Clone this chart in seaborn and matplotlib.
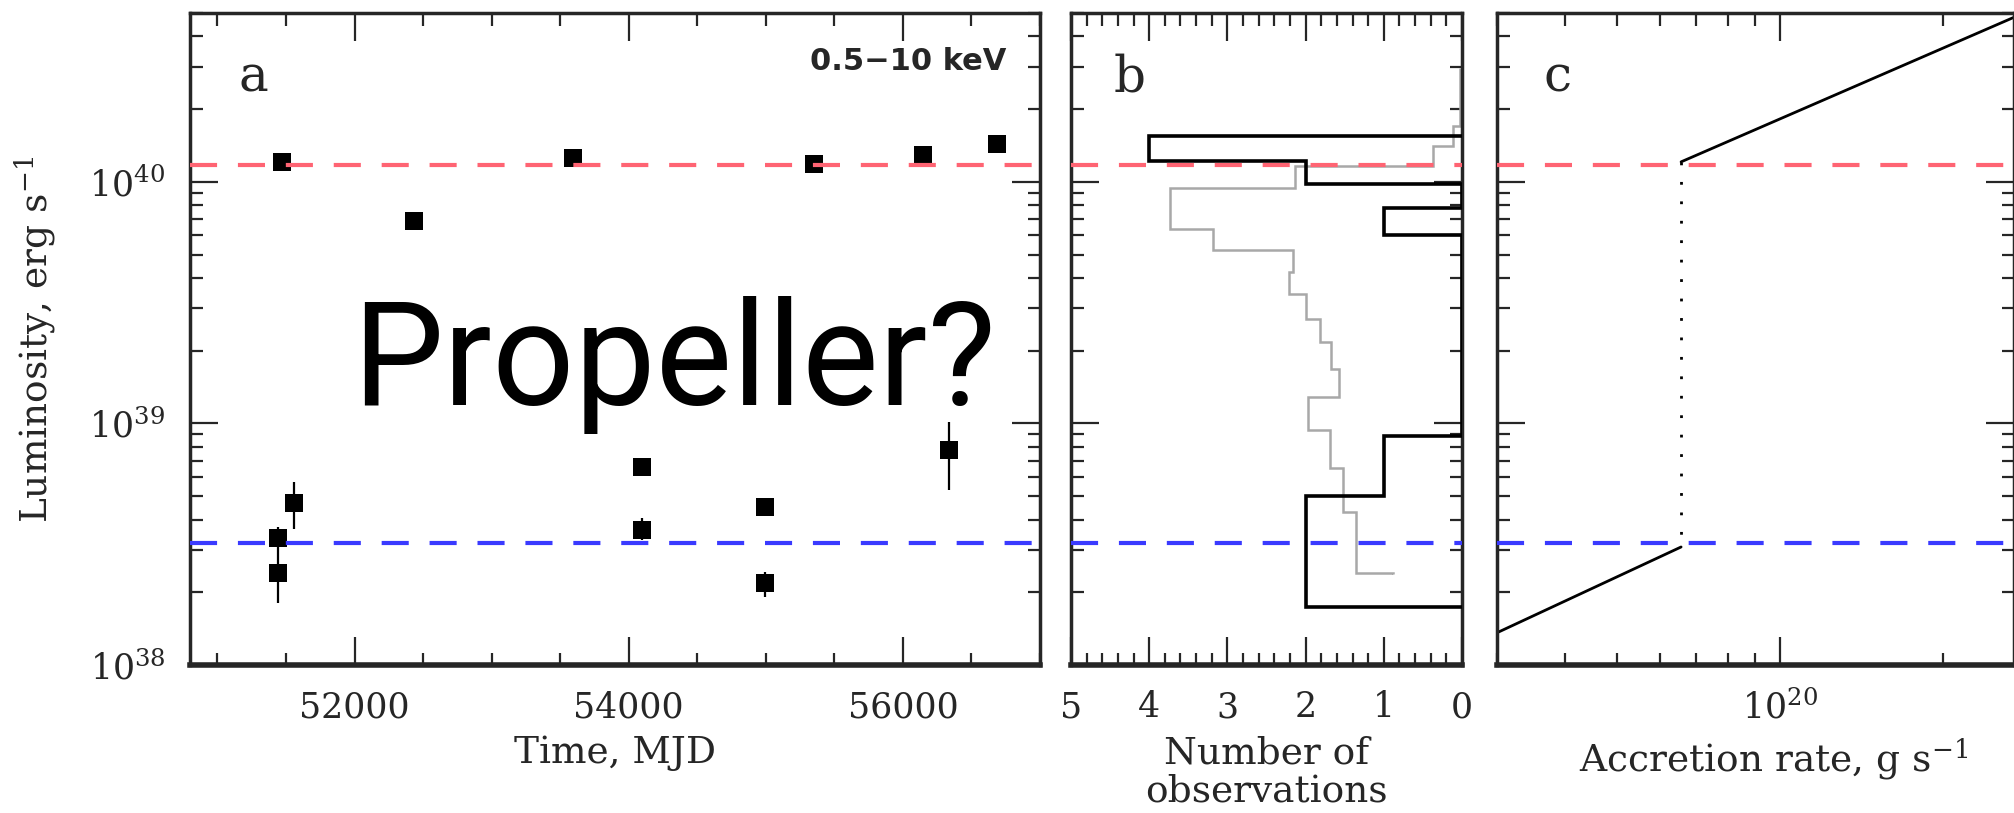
"""Luminosity history, luminosity distribution and L(Mdot) sketch in three panels."""
import numpy as np
import matplotlib
matplotlib.use('Agg')
import matplotlib.pyplot as plt
import matplotlib.ticker as mticker
import seaborn as sns


# %%
# panel a: observations (MJD, luminosity in erg/s, error bar ends)
mjd = [51440, 51440, 51557, 51471, 52434, 53592, 54097, 54097,
       54993, 54993, 55351, 56144, 56336, 56686]
lum = [3.35e38, 2.40e38, 4.69e38, 1.21e40, 6.9e39, 1.25e40, 6.59e38, 3.61e38,
       4.49e38, 2.18e38, 1.19e40, 1.29e40, 7.78e38, 1.44e40]
lum_lo = [2.80e38, 1.80e38, 3.67e38, 1.15e40, 6.6e39, 1.19e40, 6.40e38, 3.29e38,
          4.35e38, 1.91e38, 1.13e40, 1.23e40, 5.30e38, 1.37e40]
lum_hi = [3.73e38, 2.80e38, 5.70e38, 1.27e40, 7.2e39, 1.31e40, 6.80e38, 4.05e38,
          4.63e38, 2.43e38, 1.25e40, 1.35e40, 1.01e39, 1.51e40]

# the two luminosity levels (dashed lines)
lum_level_high = 1.17e40
lum_level_low = 3.2e38

# panel b: observed histogram (black) and model distribution (grey), log10 L edges
obs_edges_log = [38.24, 38.70, 38.95, 39.78, 39.89, 39.99, 40.087, 40.19]
obs_counts = [2, 1, 0, 1, 0, 2, 4]
model_edges_log = [38.378, 38.382, 38.634, 38.817, 38.974, 39.109, 39.226, 39.336,
                   39.432, 39.536, 39.625, 39.718, 39.805, 39.974, 40.066, 40.15,
                   40.23, 40.47]
model_counts = [0.88, 1.36, 1.52, 1.69, 1.97, 1.57, 1.67, 1.82, 2.0, 2.21, 2.16,
                3.18, 3.74, 2.14, 0.37, 0.12, 0.03]

# panel c: accretor branch and propeller branch
mdot_accretor = [6.56e19, 2.7e20]
lum_accretor = [1.21e40, 4.8e40]
mdot_propeller = [3.0e19, 6.56e19]
lum_propeller = [1.36e38, 3.08e38]


# %%
sns.set_style('ticks')
plt.rcParams['font.family'] = ['DejaVu Serif']
plt.rcParams['mathtext.fontset'] = 'dejavuserif'

W, H = 2014, 813
fig = plt.figure(figsize=(W / 100, H / 100), dpi=100)
bottom, height = (813 - 665) / H, 652 / H
ax_a = fig.add_axes([190 / W, bottom, 850 / W, height])
ax_b = fig.add_axes([1071 / W, bottom, 391 / W, height])
ax_c = fig.add_axes([1497 / W, bottom, 517 / W, height])

red = '#ff6473'
blue = '#3a3aff'
dash = (0, (6.5, 5))
tick_fs = 25
label_fs = 27

for ax in [ax_a, ax_b, ax_c]:
    ax.set_yscale('log')
    ax.set_ylim(1e38, 5e40)
    ax.axhline(lum_level_high, color=red, lw=3, ls=dash, zorder=5)
    ax.axhline(lum_level_low, color=blue, lw=3, ls=dash, zorder=5)
    ax.tick_params(which='both', direction='in', top=True, right=True,
                   labelsize=tick_fs, width=1.6, pad=18)
    ax.tick_params(which='major', length=20)
    ax.tick_params(which='minor', length=9)
    ax.yaxis.set_minor_formatter(mticker.NullFormatter())
    for side in ['left', 'right', 'top']:
        ax.spines[side].set_linewidth(2.5)
    ax.spines['bottom'].set_linewidth(4)

# %%
# panel a
ax_a.errorbar(mjd, lum, yerr=[np.array(lum) - np.array(lum_lo), np.array(lum_hi) - np.array(lum)],
              fmt='none', ecolor='black', elinewidth=1.6, capsize=0, zorder=3)
sns.scatterplot(x=mjd, y=lum, marker='s', s=150, color='black', linewidth=0,
                ax=ax_a, zorder=4)
ax_a.set_xlim(50800, 57000)
ax_a.xaxis.set_major_locator(mticker.MultipleLocator(2000))
ax_a.xaxis.set_minor_locator(mticker.MultipleLocator(500))
ax_a.set_xlabel('Time, MJD', fontsize=label_fs, labelpad=8)
ax_a.set_ylabel('Luminosity, erg s$^{-1}$', fontsize=label_fs)
ax_a.yaxis.set_label_coords(-0.155, 0.5)
ax_a.text(0.074, 0.90, 'a', transform=ax_a.transAxes, fontsize=36,
          ha='center', va='center')
ax_a.text(0.96, 0.926, '0.5\u221210 keV', transform=ax_a.transAxes, fontsize=22,
          fontweight='bold', family=['DejaVu Sans'], ha='right', va='center')
ax_a.text(0.569, 0.399, 'Propeller?', transform=ax_a.transAxes, fontsize=104,
          family=['Roboto', 'DejaVu Sans'], fontweight='normal', color='black',
          ha='center', va='baseline', zorder=6)

# %%
# panel b
ax_b.stairs(obs_counts, 10 ** np.array(obs_edges_log), orientation='horizontal',
            baseline=0, color='black', lw=2.6, zorder=3)
ax_b.stairs(model_counts, 10 ** np.array(model_edges_log), orientation='horizontal',
            baseline=None, color='#a8a8a8', lw=1.8, zorder=2)
ax_b.set_xlim(5, 0)
ax_b.xaxis.set_major_locator(mticker.MultipleLocator(1))
ax_b.xaxis.set_minor_locator(mticker.MultipleLocator(0.2))
ax_b.xaxis.set_major_formatter(mticker.FormatStrFormatter('%d'))
ax_b.yaxis.set_major_formatter(mticker.NullFormatter())
ax_b.set_xlabel('Number of\nobservations', fontsize=label_fs, labelpad=8,
                linespacing=1.1)
ax_b.text(0.151, 0.90, 'b', transform=ax_b.transAxes, fontsize=36,
          ha='center', va='center')

# %%
# panel c
sns.lineplot(x=mdot_accretor, y=lum_accretor, color='black', lw=2, ax=ax_c)
sns.lineplot(x=mdot_propeller, y=lum_propeller, color='black', lw=2, ax=ax_c)
ax_c.plot([mdot_accretor[0], mdot_propeller[-1]], [lum_accretor[0], lum_propeller[-1]],
          color='black', lw=2, ls=(0, (1, 6)))
ax_c.set_xscale('log')
ax_c.set_xlim(3.0e19, 2.7e20)
ax_c.xaxis.set_minor_formatter(mticker.NullFormatter())
ax_c.yaxis.set_major_formatter(mticker.NullFormatter())
ax_c.set_xlabel('Accretion rate, g s$^{-1}$', fontsize=label_fs, labelpad=8)
ax_c.xaxis.set_label_coords(0.534, -0.11)
ax_c.text(0.117, 0.90, 'c', transform=ax_c.transAxes, fontsize=36,
          ha='center', va='center')

plt.savefig('out.png', dpi=100)
